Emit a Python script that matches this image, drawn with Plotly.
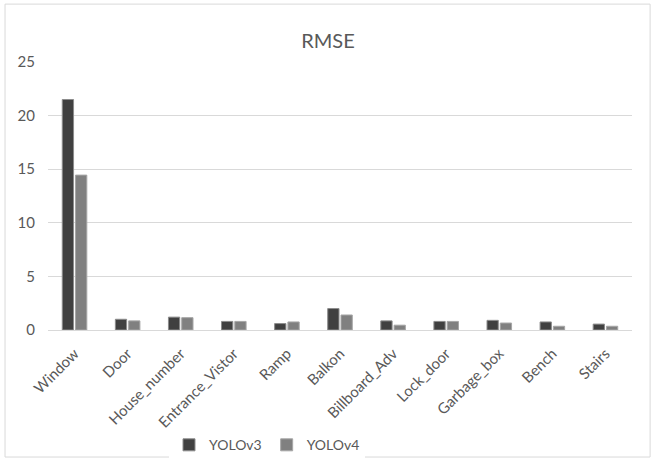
import plotly.graph_objects as go

categories = ["Window", "Door", "House_number", "Entrance_Vistor", "Ramp", "Balkon",
              "Billboard_Adv", "Lock_door", "Garbage_box", "Bench", "Stairs"]
yolov3 = [21.5, 1.0, 1.2, 0.8, 0.6, 2.0, 0.85, 0.8, 0.9, 0.75, 0.55]
yolov4 = [14.45, 0.85, 1.15, 0.8, 0.75, 1.4, 0.45, 0.8, 0.65, 0.35, 0.35]
y_ticks = [0, 5, 10, 15, 20, 25]

FONT = "Lato"
TXT = "#595959"

fig = go.Figure()
fig.add_trace(go.Bar(x=categories, y=yolov3, name="YOLOv3",
                     marker=dict(color="#404040", line=dict(color="#8c8c8c", width=1))))
fig.add_trace(go.Bar(x=categories, y=yolov4, name="YOLOv4",
                     marker=dict(color="#808080", line=dict(color="#a6a6a6", width=1))))

fig.update_layout(
    width=656, height=461,
    margin=dict(l=48, r=24, t=62, b=131, autoexpand=False),
    paper_bgcolor="white", plot_bgcolor="white",
    font=dict(family=FONT, color=TXT, size=14),
    title=dict(text="RMSE", x=0.5, xanchor="center", y=0.91, yanchor="middle",
               font=dict(family=FONT, size=20, color=TXT)),
    barmode="group", bargap=0.5, bargroupgap=0.15,
    showlegend=True,
    legend=dict(orientation="h", x=0.375, xanchor="center", y=-0.43, yanchor="middle",
                font=dict(family=FONT, size=14, color=TXT), itemwidth=30,
                traceorder="normal"),
    xaxis=dict(tickangle=-45, showgrid=False, showline=True, linecolor="#d9d9d9",
               linewidth=1, automargin=False, ticklabelstandoff=8,
               tickfont=dict(family=FONT, size=15, color=TXT)),
    yaxis=dict(range=[0, 25], tickvals=y_ticks, showgrid=True, gridcolor="#d9d9d9",
               gridwidth=1, zeroline=False, showline=False, ticklabelstandoff=12,
               automargin=False,
               tickfont=dict(family=FONT, size=15, color=TXT)),
    shapes=[dict(type="rect", xref="paper", yref="paper",
                 x0=-0.0736, x1=1.031, y0=-0.474, y1=1.216,
                 line=dict(color="#d9d9d9", width=1), fillcolor="rgba(0,0,0,0)",
                 layer="below")],
)

fig.write_html("out.html")
